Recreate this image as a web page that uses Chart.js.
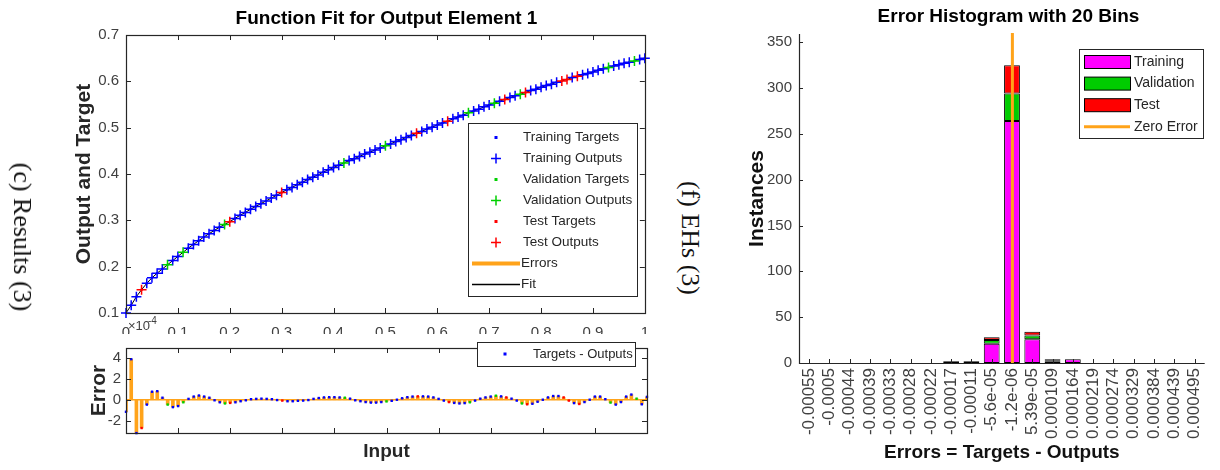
<!DOCTYPE html>
<html>
<head>
<meta charset="utf-8">
<script src="https://cdn.jsdelivr.net/npm/chart.js@4.4.1/dist/chart.umd.min.js"></script>
<style>
  html, body { margin: 0; padding: 0; background: #fff; }
  #wrap { position: relative; width: 1220px; height: 470px; overflow: hidden; }
  canvas { position: absolute; }
  #fitCanvas { left: 0; top: 0; }
  #errCanvas { left: 0; top: 334px; background: #fff; }
  #histCanvas { left: 720px; top: 0; }
  .side {
    position: absolute; white-space: nowrap; color: #111;
    font-family: "Liberation Serif", "Times New Roman", serif; font-size: 26px;
    transform: translate(-50%, -50%) rotate(90deg);
  }
</style>
</head>
<body>
<div id="wrap">
  <canvas id="fitCanvas" width="660" height="345"></canvas>
  <canvas id="errCanvas" width="660" height="136"></canvas>
  <canvas id="histCanvas" width="500" height="470"></canvas>
  <div class="side" style="left:22px; top:237px;">(c) Results (3)</div>
  <div class="side" style="left:690px; top:238px;">(f) EHs (3)</div>
</div>
<script>
// ---- data ----
const inputs = [
  0.00, 0.01, 0.02, 0.03, 0.04, 0.05, 0.06, 0.07, 0.08, 0.09,
  0.10, 0.11, 0.12, 0.13, 0.14, 0.15, 0.16, 0.17, 0.18, 0.19,
  0.20, 0.21, 0.22, 0.23, 0.24, 0.25, 0.26, 0.27, 0.28, 0.29,
  0.30, 0.31, 0.32, 0.33, 0.34, 0.35, 0.36, 0.37, 0.38, 0.39,
  0.40, 0.41, 0.42, 0.43, 0.44, 0.45, 0.46, 0.47, 0.48, 0.49,
  0.50, 0.51, 0.52, 0.53, 0.54, 0.55, 0.56, 0.57, 0.58, 0.59,
  0.60, 0.61, 0.62, 0.63, 0.64, 0.65, 0.66, 0.67, 0.68, 0.69,
  0.70, 0.71, 0.72, 0.73, 0.74, 0.75, 0.76, 0.77, 0.78, 0.79,
  0.80, 0.81, 0.82, 0.83, 0.84, 0.85, 0.86, 0.87, 0.88, 0.89,
  0.90, 0.91, 0.92, 0.93, 0.94, 0.95, 0.96, 0.97, 0.98, 0.99,
  1.00
];

const targets = [
  0.100, 0.117, 0.135, 0.150, 0.164, 0.176, 0.186, 0.195, 0.204, 0.213,
  0.222, 0.231, 0.240, 0.248, 0.256, 0.264, 0.271, 0.278, 0.285, 0.291,
  0.297, 0.304, 0.311, 0.317, 0.324, 0.330, 0.336, 0.342, 0.348, 0.354,
  0.360, 0.366, 0.371, 0.377, 0.382, 0.388, 0.393, 0.398, 0.404, 0.409,
  0.414, 0.419, 0.424, 0.429, 0.433, 0.438, 0.443, 0.447, 0.452, 0.456,
  0.461, 0.465, 0.470, 0.474, 0.479, 0.483, 0.488, 0.492, 0.497, 0.501,
  0.506, 0.510, 0.514, 0.519, 0.523, 0.527, 0.532, 0.536, 0.540, 0.545,
  0.549, 0.553, 0.557, 0.561, 0.565, 0.569, 0.572, 0.576, 0.580, 0.583,
  0.587, 0.591, 0.594, 0.598, 0.601, 0.604, 0.608, 0.611, 0.614, 0.617,
  0.620, 0.624, 0.627, 0.630, 0.633, 0.636, 0.639, 0.641, 0.644, 0.647,
  0.650
];

// errors (targets - outputs), in units of 1e-4
const errors = [
  -1.14, 3.84, -3.16, -2.68, -0.46, 0.76, 0.81, 0.19, -0.46, -0.70,
  -0.60, -0.24, 0.08, 0.30, 0.40, 0.30, 0.19, -0.05, -0.24, -0.35,
  -0.30, -0.24, -0.14, -0.05, 0.05, 0.08, 0.10, 0.08, 0.05, -0.03,
  -0.08, -0.14, -0.14, -0.10, -0.08, -0.03, 0.08, 0.16, 0.22, 0.24,
  0.24, 0.22, 0.19, 0.10, -0.05, -0.14, -0.22, -0.27, -0.27, -0.22,
  -0.16, -0.10, 0.00, 0.14, 0.24, 0.30, 0.32, 0.32, 0.30, 0.22,
  0.08, -0.08, -0.22, -0.30, -0.35, -0.32, -0.24, -0.08, 0.10, 0.22,
  0.30, 0.38, 0.32, 0.22, 0.10, -0.08, -0.35, -0.43, -0.38, -0.19,
  0.00, 0.22, 0.35, 0.35, 0.22, -0.08, -0.32, -0.40, -0.22, 0.00,
  0.30, 0.30, 0.05, -0.27, -0.46, -0.22, 0.30, 0.49, 0.10, -0.43,
  0.27
];

// 0 = training, 1 = validation, 2 = test
const groups = [
  0, 0, 0, 2, 0, 0, 0, 0, 1, 0,
  0, 1, 0, 0, 0, 0, 0, 0, 0, 1,
  2, 0, 0, 0, 0, 0, 0, 0, 0, 0,
  2, 0, 0, 0, 0, 0, 0, 0, 0, 0,
  0, 0, 1, 0, 0, 0, 0, 0, 0, 0,
  1, 0, 0, 0, 0, 0, 2, 0, 0, 0,
  0, 0, 2, 0, 0, 0, 1, 0, 0, 0,
  0, 1, 0, 2, 0, 0, 1, 2, 0, 0,
  0, 0, 0, 0, 2, 2, 0, 2, 0, 0,
  0, 0, 0, 1, 0, 0, 0, 0, 1, 0,
  0
];

const histLabels = ['-0.00055', '-0.0005', '-0.00044', '-0.00039', '-0.00033', '-0.00028',
  '-0.00022', '-0.00017', '-0.00011', '-5.6e-05', '-1.2e-06', '5.39e-05', '0.000109',
  '0.000164', '0.000219', '0.000274', '0.000329', '0.000384', '0.000439', '0.000495'];
const histTraining   = [0, 0, 0, 0, 0, 0, 0, 1, 2, 21, 264, 26, 2, 4, 0, 0, 0, 0, 0, 0];
const histValidation = [0, 0, 0, 0, 0, 0, 0, 0, 0, 4, 30, 4, 1, 0, 0, 0, 0, 0, 0, 0];
const histTest       = [0, 0, 0, 0, 0, 0, 0, 1, 0, 3, 31, 4, 1, 0, 0, 0, 0, 0, 0, 0];
const zeroErrorBin = 10.02;   // position of zero error on the bin axis

// ---- styling ----
const FONT = '"Liberation Sans", Arial, Helvetica, sans-serif';
const AXIS = '#262626';
const TICK = '#404040';
const ORANGE = '#ffa31a';
const groupColors = ['#0000ff', '#00d000', '#ff0000'];
const groupNames = ['Training', 'Validation', 'Test'];

Chart.defaults.font.family = FONT;
Chart.defaults.animation = false;
Chart.defaults.events = [];
Chart.defaults.plugins.legend.display = false;
Chart.defaults.plugins.tooltip.enabled = false;

const outputs = targets.map((t, i) => +(t - errors[i] * 1e-4).toFixed(7));

function pick(values, g) {
  const pts = [];
  inputs.forEach((x, i) => { if (groups[i] === g) pts.push({ x: x, y: values[i] }); });
  return pts;
}

function text(ctx, str, x, y, font, color, align, baseline) {
  ctx.font = font;
  ctx.fillStyle = color || '#000';
  ctx.textAlign = align || 'left';
  ctx.textBaseline = baseline || 'middle';
  ctx.fillText(str, x, y);
}

// matlab style box with inward ticks
const boxTicks = {
  id: 'boxTicks',
  afterDatasetsDraw(chart, args, opts) {
    const { ctx, chartArea: a, scales } = chart;
    const len = opts.len || 5;
    ctx.save();
    ctx.strokeStyle = AXIS;
    ctx.lineWidth = 1;
    ctx.beginPath();
    scales.x.ticks.forEach(t => {
      const px = Math.round(scales.x.getPixelForValue(t.value)) + 0.5;
      ctx.moveTo(px, a.bottom); ctx.lineTo(px, a.bottom - len);
      if (opts.box) { ctx.moveTo(px, a.top); ctx.lineTo(px, a.top + len); }
    });
    scales.y.ticks.forEach(t => {
      const py = Math.round(scales.y.getPixelForValue(t.value)) + 0.5;
      ctx.moveTo(a.left, py); ctx.lineTo(a.left + len, py);
      if (opts.box) { ctx.moveTo(a.right, py); ctx.lineTo(a.right - len, py); }
    });
    ctx.stroke();
    ctx.lineWidth = 1.2;
    if (opts.box) {
      ctx.strokeRect(Math.round(a.left) + 0.5, Math.round(a.top) + 0.5,
        Math.round(a.right - a.left), Math.round(a.bottom - a.top));
    } else {
      ctx.beginPath();
      ctx.moveTo(Math.round(a.left) + 0.5, a.top);
      ctx.lineTo(Math.round(a.left) + 0.5, Math.round(a.bottom) + 0.5);
      ctx.lineTo(a.right, Math.round(a.bottom) + 0.5);
      ctx.stroke();
    }
    ctx.restore();
  }
};

// ---- function fit panel ----
const fitDatasets = [];
groupNames.forEach((name, g) => {
  fitDatasets.push({
    label: name + ' Targets', data: pick(targets, g), showLine: false,
    pointStyle: 'rect', pointRadius: 1.5, backgroundColor: groupColors[g],
    borderColor: groupColors[g], borderWidth: 0, order: 9 - 2 * g, clip: false
  });
  fitDatasets.push({
    label: name + ' Outputs', data: pick(outputs, g), showLine: false,
    pointStyle: 'cross', pointRadius: 5, borderColor: groupColors[g],
    backgroundColor: groupColors[g], borderWidth: 1.5, order: 8 - 2 * g, clip: false
  });
});
fitDatasets.push({
  label: 'Fit', data: inputs.map((x, i) => ({ x: x, y: outputs[i] })), showLine: true,
  borderColor: '#000', borderWidth: 1, pointRadius: 0, order: 20, tension: 0
});

const fitDecor = {
  id: 'fitDecor',
  afterDraw(chart) {
    const ctx = chart.ctx;
    ctx.save();
    text(ctx, 'Function Fit for Output Element 1', 386.5, 19, 'bold 19px ' + FONT, '#000', 'center');
    text(ctx, '\u00d710', 128, 330, '13px ' + FONT, TICK, 'left', 'alphabetic');
    text(ctx, '-4', 148, 324, '10px ' + FONT, TICK, 'left', 'alphabetic');

    // legend
    const l = 468, t = 123, r = 637, b = 296;
    ctx.fillStyle = '#fff';
    ctx.fillRect(l, t, r - l, b - t);
    ctx.strokeStyle = AXIS;
    ctx.lineWidth = 1;
    ctx.strokeRect(l + 0.5, t + 0.5, r - l, b - t);
    const rows = [];
    groupNames.forEach((name, g) => {
      rows.push({ label: name + ' Targets', kind: 'dot', color: groupColors[g] });
      rows.push({ label: name + ' Outputs', kind: 'cross', color: groupColors[g] });
    });
    rows.push({ label: 'Errors', kind: 'line', color: ORANGE, width: 4 });
    rows.push({ label: 'Fit', kind: 'line', color: '#000', width: 1.5 });
    rows.forEach((row, k) => {
      const y = t + 14.5 + k * 21;
      ctx.strokeStyle = row.color;
      ctx.fillStyle = row.color;
      if (row.kind === 'dot') {
        ctx.fillRect(494.5, y - 1.5, 3, 3);
      } else if (row.kind === 'cross') {
        ctx.lineWidth = 1.5;
        ctx.beginPath();
        ctx.moveTo(491, y); ctx.lineTo(501, y);
        ctx.moveTo(496, y - 5); ctx.lineTo(496, y + 5);
        ctx.stroke();
      } else {
        ctx.lineWidth = row.width;
        ctx.beginPath();
        ctx.moveTo(472, y); ctx.lineTo(520, y);
        ctx.stroke();
      }
      text(ctx, row.label, row.kind === 'line' ? 521 : 523, y, '13.5px ' + FONT, AXIS, 'left');
    });
    ctx.restore();
  }
};

new Chart(document.getElementById('fitCanvas'), {
  type: 'scatter',
  data: { datasets: fitDatasets },
  options: {
    responsive: false,
    layout: { padding: { top: 35, right: 13, bottom: 0, left: 0 } },
    scales: {
      x: {
        type: 'linear', min: 0, max: 1,
        grid: { display: false, drawTicks: false }, border: { display: false },
        ticks: { stepSize: 0.1, includeBounds: false, maxRotation: 0, autoSkip: false,
          padding: 11, color: TICK, font: { size: 15 },
          callback: v => String(Math.round(v * 10) / 10) },
        afterFit: s => { s.height = 32; }
      },
      y: {
        type: 'linear', min: 0.1, max: 0.7,
        grid: { display: false, drawTicks: false }, border: { display: false },
        ticks: { stepSize: 0.1, includeBounds: false, padding: 7, color: TICK, font: { size: 15 } },
        title: { display: true, text: 'Output and Target', color: AXIS,
          font: { size: 21, weight: 'bold' }, padding: { top: 72, bottom: 0 } },
        afterFit: s => { s.width = 126; }
      }
    },
    plugins: { boxTicks: { box: true, len: 5 } }
  },
  plugins: [boxTicks, fitDecor]
});

// ---- error panel ----
const errPoints = inputs.map((x, i) => ({ x: x, y: errors[i] }));

const errDecor = {
  id: 'errDecor',
  beforeDatasetsDraw(chart) {
    const { ctx, chartArea: a, scales } = chart;
    const y0 = scales.y.getPixelForValue(0);
    ctx.save();
    ctx.strokeStyle = ORANGE;
    ctx.lineWidth = 1.5;
    ctx.beginPath();
    ctx.moveTo(a.left, y0); ctx.lineTo(a.right, y0);
    ctx.stroke();
    ctx.restore();
  },
  afterDraw(chart) {
    const ctx = chart.ctx;
    const l = 477, t = 8, r = 635, b = 32;
    ctx.save();
    ctx.fillStyle = '#fff';
    ctx.fillRect(l, t, r - l, b - t);
    ctx.strokeStyle = AXIS;
    ctx.lineWidth = 1;
    ctx.strokeRect(l + 0.5, t + 0.5, r - l, b - t);
    ctx.fillStyle = groupColors[0];
    ctx.fillRect(503.5, 18.5, 3, 3);
    text(ctx, 'Targets - Outputs', 533, 20.5, '13px ' + FONT, AXIS, 'left');
    ctx.restore();
  }
};

new Chart(document.getElementById('errCanvas'), {
  type: 'bar',
  data: {
    datasets: [
      { type: 'bar', data: errPoints, backgroundColor: ORANGE, borderWidth: 0,
        barThickness: 3, order: 2 },
      { type: 'scatter', data: errPoints, pointStyle: 'rect', pointRadius: 1.7,
        backgroundColor: groups.map(g => groupColors[g]), borderWidth: 0, order: 1, clip: false }
    ]
  },
  options: {
    responsive: false,
    layout: { padding: { top: 1, right: 13, bottom: 0, left: 0 } },
    scales: {
      x: {
        type: 'linear', min: 0, max: 1, offset: false,
        grid: { display: false, drawTicks: false }, border: { display: false },
        ticks: { display: false, stepSize: 0.1, includeBounds: false },
        title: { display: true, text: 'Input', color: AXIS,
          font: { size: 19, weight: 'bold' }, padding: { top: 0, bottom: 6.6 } },
        afterFit: s => { s.height = 37; }
      },
      y: {
        type: 'linear', min: -3.15, max: 4.9,
        grid: { display: false, drawTicks: false }, border: { display: false },
        ticks: { stepSize: 2, includeBounds: false, padding: 5, color: TICK, font: { size: 15 } },
        title: { display: true, text: 'Error', color: AXIS,
          font: { size: 21, weight: 'bold' }, padding: { top: 87, bottom: 0 } },
        afterFit: s => { s.width = 126; }
      }
    },
    plugins: { boxTicks: { box: true, len: 5 } }
  },
  plugins: [boxTicks, errDecor]
});

// ---- error histogram ----
const histColors = ['#ff00ff', '#00cc00', '#ff0000'];

const histDecor = {
  id: 'histDecor',
  afterDatasetsDraw(chart) {
    const { ctx, chartArea: a, scales } = chart;
    const base = Math.floor(zeroErrorBin);
    const p0 = scales.x.getPixelForValue(base);
    const p1 = scales.x.getPixelForValue(base + 1);
    const px = p0 + (zeroErrorBin - base) * (p1 - p0);
    ctx.save();
    ctx.strokeStyle = ORANGE;
    ctx.lineWidth = 3;
    ctx.beginPath();
    ctx.moveTo(px, a.top - 1); ctx.lineTo(px, a.bottom);
    ctx.stroke();
    ctx.restore();
  },
  afterDraw(chart) {
    const ctx = chart.ctx;
    ctx.save();
    text(ctx, 'Error Histogram with 20 Bins', 288.5, 17, 'bold 19px ' + FONT, '#000', 'center');
    const l = 359, t = 49, r = 483, b = 138;
    ctx.fillStyle = '#fff';
    ctx.fillRect(l, t, r - l, b - t);
    ctx.strokeStyle = AXIS;
    ctx.lineWidth = 1;
    ctx.strokeRect(l + 0.5, t + 0.5, r - l, b - t);
    const rows = ['Training', 'Validation', 'Test', 'Zero Error'];
    rows.forEach((name, k) => {
      const y = t + 13 + k * 21.6;
      if (k < 3) {
        ctx.fillStyle = histColors[k];
        ctx.fillRect(364, y - 6.5, 46, 13);
        ctx.strokeStyle = '#000';
        ctx.lineWidth = 1;
        ctx.strokeRect(364.5, y - 6.5, 46, 13);
      } else {
        ctx.strokeStyle = ORANGE;
        ctx.lineWidth = 3;
        ctx.beginPath();
        ctx.moveTo(364, y); ctx.lineTo(410, y);
        ctx.stroke();
      }
      text(ctx, name, 414, y, '14px ' + FONT, AXIS, 'left');
    });
    ctx.restore();
  }
};

function histSet(label, values, color) {
  return {
    label: label, data: values, backgroundColor: color, borderColor: '#000',
    borderWidth: 1, borderSkipped: false, barPercentage: 0.78, categoryPercentage: 1.0
  };
}

new Chart(document.getElementById('histCanvas'), {
  type: 'bar',
  data: {
    labels: histLabels,
    datasets: [
      histSet('Training', histTraining, histColors[0]),
      histSet('Validation', histValidation, histColors[1]),
      histSet('Test', histTest, histColors[2])
    ]
  },
  options: {
    responsive: false,
    layout: { padding: { top: 34, right: 2, bottom: 0, left: 0 } },
    scales: {
      x: {
        stacked: true,
        grid: { display: false, drawTicks: false }, border: { display: false },
        ticks: { minRotation: 90, maxRotation: 90, autoSkip: false, padding: 5,
          color: TICK, font: { size: 17 } },
        title: { display: true, text: 'Errors = Targets - Outputs', color: '#111',
          font: { size: 19, weight: 'bold' }, padding: { top: 0, bottom: 5.6 } },
        afterFit: s => { s.height = 107; }
      },
      y: {
        stacked: true, min: 0, max: 359,
        grid: { display: false, drawTicks: false }, border: { display: false },
        ticks: { stepSize: 50, includeBounds: false, padding: 7, color: TICK, font: { size: 15 } },
        title: { display: true, text: 'Instances', color: '#111',
          font: { size: 21, weight: 'bold' }, padding: { top: 24.4, bottom: 0 } },
        afterFit: s => { s.width = 79; }
      }
    },
    plugins: { boxTicks: { box: false, len: 4 } }
  },
  plugins: [boxTicks, histDecor]
});
</script>
</body>
</html>
